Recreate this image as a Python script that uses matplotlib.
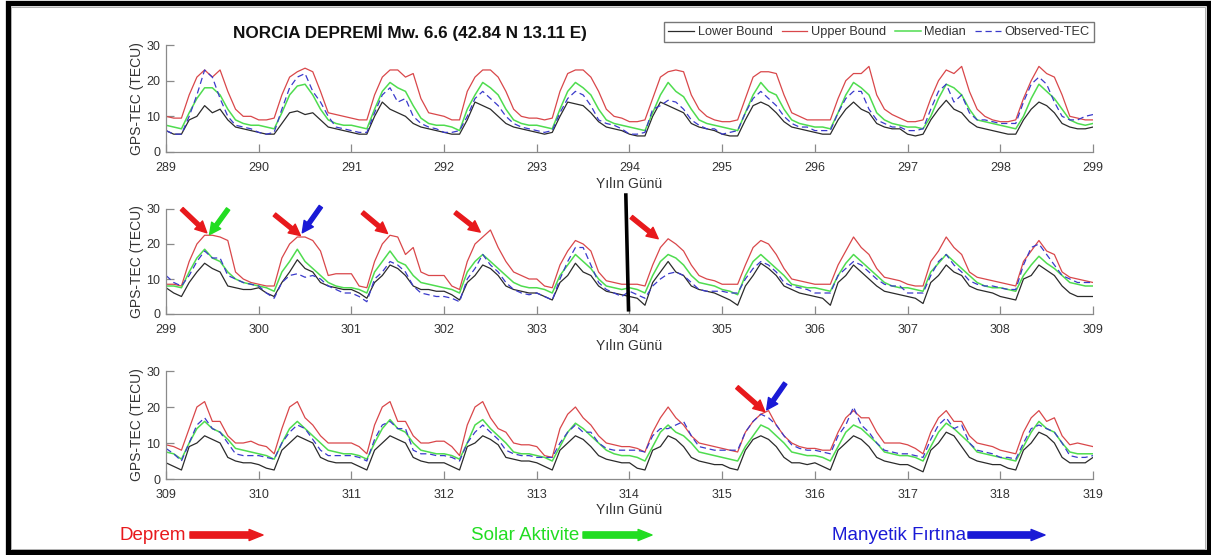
import numpy as np
import matplotlib
matplotlib.use("Agg")
import matplotlib.pyplot as plt
from matplotlib.patches import Rectangle, FancyArrowPatch

plt.rcParams['font.family'] = ['Liberation Sans', 'DejaVu Sans']

# ---------------- data (12 samples per day, 2-hour step) ----------------
day_starts = [289, 299, 309]
samples_per_day = 12

lower_1 = [6, 5, 5, 9, 10, 13, 11, 12, 9, 7, 6.5, 6,
           5.5, 5, 5, 8, 11, 11.5, 10.5, 11, 9, 7, 6.5, 6,
           5.5, 5, 5, 10, 14, 12, 11, 10, 8, 7, 6.5, 6,
           5.5, 5, 5, 9, 14, 13, 12, 10, 8, 7, 6.5, 6,
           5.5, 5, 5.5, 10, 14, 13.5, 13, 11, 8.5, 7, 6.5, 6,
           5, 4.5, 4.5, 10, 14, 13, 12, 11, 8, 7, 6.5, 6,
           5, 4.5, 4.5, 9, 13, 14, 13, 11, 8.5, 7, 6.5, 6,
           5.5, 5, 5, 9, 12, 14, 12, 11, 8, 7, 6.5, 6.5,
           5, 4.5, 5, 9, 12, 14.5, 12, 11, 8.5, 7, 6.5, 6,
           5.5, 5, 5, 9, 12, 14, 13, 11, 8, 7, 6.5, 6.5,
           7]
upper_1 = [10, 9.5, 9.5, 16, 21, 23, 21, 23, 17, 12, 10, 10,
           9, 9, 9.5, 16, 21, 22.5, 23.5, 22.5, 17, 11, 10.5, 10,
           9.5, 9, 9, 16, 21, 23, 23, 21, 22, 15, 11, 10.5,
           10, 9, 9, 17, 21, 23, 23, 21, 17, 12, 10, 9.5,
           9.5, 9, 9.5, 17, 22, 23, 23, 21, 17, 12, 10, 9.5,
           8.5, 8.5, 9, 15, 21, 22.5, 23, 22.5, 16, 12, 10, 9,
           8.5, 8.5, 9, 15, 21, 22.5, 22.5, 22, 16, 11, 10, 9,
           9, 9, 9, 15, 20, 22, 22, 24, 16, 12, 10.5, 9.5,
           8.5, 8.5, 9, 15, 20, 23, 22, 24, 17, 12, 10, 9,
           8.5, 8.5, 9, 15, 20, 24, 22, 21, 16, 10, 9.5, 9,
           9]
median_1 = [7.5, 7, 6.5, 11, 15, 18, 18, 16, 12, 9, 8, 7.5,
            7.5, 7, 6.5, 11, 16, 18.5, 19, 16, 12, 9, 8, 7.5,
            7.5, 7, 6.5, 12, 17, 19.5, 18, 17, 13, 9.5, 8, 7.5,
            7.5, 7, 6, 12, 16, 19.5, 18, 16, 12, 9, 8, 7.5,
            7.5, 7, 6.5, 12, 17, 19.5, 18, 16, 12, 9, 8, 7.5,
            7, 6.5, 6, 11, 16, 19.5, 17, 15.5, 12, 9, 8, 7.5,
            7, 6.5, 6, 11, 16, 19.5, 17, 16, 12, 9, 8, 7.5,
            7, 7, 6.5, 11, 16, 19.5, 18, 16, 11, 9, 8, 7.5,
            7, 7, 6.5, 10, 15, 19, 18, 16, 12, 9, 8.5, 8,
            7.5, 7, 6.5, 10, 15, 19, 17, 15, 12, 9, 8, 7.5,
            8]
observed_1 = [6, 5, 5, 10, 16, 23, 21, 15, 10, 7.5, 7, 6.5,
              5.5, 5, 5.5, 12, 18, 21, 22, 17, 14, 10, 7, 6.5,
              6, 5.5, 5.5, 11, 16, 18, 14, 15, 10, 8, 7, 6.5,
              5.5, 5.5, 6, 10, 15, 17, 15, 13, 10, 8, 7, 6.5,
              6, 5.5, 6, 11, 15, 17, 16, 13, 9, 8, 7.5, 6.5,
              5, 5, 5.5, 12, 13, 14.5, 14, 12, 9, 7.5, 6.5, 6.5,
              5, 5.5, 6, 11, 15, 17, 15, 13, 10, 8, 7, 7,
              6, 6, 6, 11, 15, 17, 17, 12, 9, 8, 7, 7,
              6, 6, 6.5, 12, 17, 19, 14, 16, 11, 9, 9, 8.5,
              8, 8, 8, 14, 19, 21, 19, 14, 10, 9, 9, 10,
              10.5]

lower_2 = [7.5, 6, 5, 9, 12, 14.5, 13, 12, 8, 7.5, 7, 7,
           7.5, 6, 5, 9, 12, 15.5, 13, 12, 9, 8, 7.5, 7,
           7, 6, 4.5, 9, 11, 14, 13, 11, 8, 7, 7, 6.5,
           6.5, 5.5, 4, 9, 11, 14, 13, 11, 8, 7, 6.5, 6,
           6, 5, 4, 9, 11, 14.5, 12, 11, 8, 6.5, 6, 5.5,
           5, 4.5, 2.5, 9, 12, 15, 12, 11, 8, 7, 6.5, 6,
           5, 4, 2.5, 8, 11, 14.5, 13, 11, 8, 7, 6, 5.5,
           5, 4.5, 2.5, 9, 11, 14, 12, 10, 8, 6.5, 6, 5.5,
           5, 4.5, 3, 9, 11, 14, 12, 11, 8, 7, 6.5, 6,
           5, 4.5, 4, 10, 11, 14, 12.5, 11, 8, 6, 5, 5,
           5]
upper_2 = [8.5, 8.5, 8, 15, 20, 22.5, 22.5, 22, 21, 12, 10, 9,
           8.5, 8, 8, 16, 20, 22, 22, 21, 18, 11, 11.5, 11.5,
           11.5, 8, 7.5, 15, 20, 22.5, 22, 17, 19, 12, 11, 11,
           11, 8, 7, 15, 20, 22, 24, 19, 15, 12, 11, 10,
           10, 8, 7.5, 14, 18, 21, 20, 18, 12, 9.5, 9, 8.5,
           8.5, 8.5, 8, 14, 19, 21.5, 20, 18, 14, 11, 10, 9.5,
           8.5, 8.5, 8.5, 14, 19, 21, 20, 17, 13, 10, 9.5, 9,
           8.5, 8.5, 8.5, 14, 18, 22, 19, 17, 13, 10.5, 10, 9.5,
           8.5, 8, 8, 15, 18, 22, 19, 17, 12, 10.5, 10, 9.5,
           9, 8.5, 8, 15, 18, 21, 18, 17, 12, 10.5, 10, 9.5,
           9]
median_2 = [8, 8, 7.5, 12, 16, 18.5, 16, 15, 12, 10, 9, 8.5,
            8, 7.5, 6.5, 12, 15, 18.5, 15, 13, 11, 9, 8, 7.5,
            7.5, 7, 6, 12, 15, 18, 15, 14, 11, 9, 8.5, 8,
            7.5, 7, 6, 12, 15, 17, 15, 13, 11, 9, 8, 7.5,
            7.5, 7, 6, 11, 14, 17, 15, 13, 10, 8, 7.5, 7,
            7.5, 7, 6, 11, 15, 17, 16, 14, 11, 9, 8.5, 8,
            7, 6.5, 5.5, 11, 15, 17, 15, 13, 11, 8.5, 8, 7.5,
            7.5, 7, 6.5, 11, 14.5, 17, 15, 13, 11, 9, 8, 7.5,
            7.5, 7, 6.5, 12, 14.5, 17, 15, 13, 11, 9, 8, 7.5,
            7.5, 7, 6.5, 11, 14, 16.5, 14.5, 13, 11, 9, 8.5, 8,
            8]
observed_2 = [11, 9, 8, 11, 15, 18, 16, 16, 11, 10, 9, 8.5,
              8, 6, 4.5, 9, 11, 11.5, 10.5, 11, 10, 8, 7, 6,
              6, 5, 3.5, 10, 12, 15, 14, 12, 8, 6, 5.5, 5,
              5, 4.5, 3.5, 10, 13, 17, 14, 12, 9, 7, 6, 5.5,
              6, 5, 4, 10, 15, 19, 19, 14, 9, 7, 6, 5,
              6.5, 5.5, 4.5, 8, 10, 11.5, 12, 11, 9, 7, 6.5, 6.5,
              6.5, 6, 6, 10, 13, 15, 14, 12, 9, 8, 7.5, 7,
              6, 6, 6, 11, 13, 15, 14, 12, 10, 8.5, 8, 8,
              6, 6, 6, 11, 15, 17, 14, 12, 9.5, 8.5, 8, 8,
              7.5, 7, 7, 14, 19, 20, 17, 14, 11, 10, 9, 9,
              9]

lower_3 = [4.5, 3.5, 2.5, 9, 10, 12, 11, 10, 6, 5, 4.5, 4.5,
           4, 3, 2.5, 8, 10, 12, 11, 10, 6, 5, 4.5, 4.5,
           4.5, 3.5, 2.5, 8, 10, 12, 11, 10, 6, 5, 4.5, 4.5,
           4.5, 3.5, 2.5, 9, 10, 12, 11, 9.5, 6, 5.5, 5, 5,
           4.5, 3.5, 2.5, 8, 10, 12, 11, 9, 6.5, 5.5, 5, 4.5,
           4.5, 3, 2.5, 8, 9, 12, 11, 9, 6, 5, 4.5, 4,
           4, 3, 2.5, 8, 11, 12, 11, 9, 6, 4.5, 4.5, 4,
           4.5, 3.5, 2.5, 8, 10, 12, 11, 9, 6, 5, 4.5, 4,
           4, 3, 2, 8, 10, 13, 12, 9, 6, 5, 4.5, 4,
           4, 3, 2.5, 8, 10, 13, 12, 10, 6, 4.5, 4.5, 4.5,
           6]
upper_3 = [9.5, 9, 8, 14, 20, 21.5, 16, 16, 12, 10, 10, 10.5,
           9.5, 9, 7, 14, 20, 21.5, 17, 15, 12, 10, 10, 10,
           10, 9, 7, 15, 20, 21.5, 16, 16, 12, 10, 10, 10.5,
           10.5, 9, 6.5, 15, 20, 21.5, 17, 14, 13, 10, 9.5, 9.5,
           9, 6.5, 6, 14, 18, 20, 17, 15, 12, 10, 9.5, 9,
           9, 8.5, 7.5, 13, 17, 20, 17, 15, 12, 10, 9.5, 9,
           8.5, 8, 7.5, 13, 16, 18, 19, 15, 12, 10, 9, 8.5,
           8.5, 8, 8, 13, 17, 19, 17, 17, 13, 10, 10, 10,
           9.5, 8.5, 7, 13, 17, 19, 16, 16, 12, 10, 9.5, 9,
           8, 7.5, 7, 13, 17, 19, 16, 17, 12, 9.5, 10, 9.5,
           9]
median_3 = [7.5, 7, 5.5, 10, 14, 16, 14, 13, 11, 8.5, 8, 7.5,
            7, 6.5, 5.5, 10, 14, 16, 14, 12, 10, 8, 7.5, 7,
            7, 6.5, 5.5, 10, 14, 16.5, 14, 13, 10, 8, 7.5, 7,
            7, 6.5, 5.5, 10, 15, 16.5, 14, 12, 10, 7.5, 7, 7,
            6.5, 6, 5, 9, 13, 15.5, 14, 12, 10, 8, 7, 6.5,
            6.5, 6, 5, 9, 13, 15, 13, 12, 10, 7.5, 7, 6.5,
            6, 5.5, 5, 9, 12, 15, 14, 12, 10, 7.5, 7, 6.5,
            6.5, 6, 5, 9, 13, 15, 14, 12, 10, 7.5, 7, 6.5,
            6.5, 6, 5, 9, 13, 15.5, 14, 12, 10, 7.5, 7, 6.5,
            6, 5.5, 5, 9, 13, 16, 14, 13, 10, 7.5, 7, 7,
            7]
observed_3 = [8.5, 7, 5, 10, 15, 17, 14, 13, 10, 7, 6.5, 6.5,
              6.5, 6, 5.5, 10, 13, 15, 14, 11, 8, 6.5, 6.5, 6.5,
              6.5, 6, 5, 11, 15, 16, 14, 14, 8, 7, 7, 6.5,
              6.5, 6, 5, 10, 13, 15, 13, 11, 8, 7, 6.5, 6.5,
              6, 6, 6, 10, 13, 15, 13, 13, 10, 8.5, 8, 8,
              8, 8, 7.5, 12, 14, 14, 15, 16, 12, 9, 8.5, 8,
              8, 8, 8, 13, 16, 18, 17, 15, 12, 9.5, 8.5, 8,
              8, 7.5, 7, 12, 15, 20, 15, 13, 10, 8, 7.5, 7,
              7, 6.5, 6, 11, 15, 17, 14, 15, 10, 8, 7.5, 7,
              6, 6, 5.5, 10, 14, 15, 14, 13, 10, 6.5, 6, 6,
              6.5]

panels = [
    (lower_1, upper_1, median_1, observed_1),
    (lower_2, upper_2, median_2, observed_2),
    (lower_3, upper_3, median_3, observed_3),
]

series_labels = ['Lower Bound', 'Upper Bound', 'Median', 'Observed-TEC']
title_text = 'NORCIA DEPREMİ Mw. 6.6 (42.84 N 13.11 E)'
x_label = 'Yılın Günü'
y_label = 'GPS-TEC (TECU)'

# anomaly arrows: (panel, tail_x, tail_y, head_x, head_y, colour)
arrow_marks = [
    (1, 299.17, 30.0, 299.44, 23.2, 'red'),
    (1, 299.67, 30.0, 299.47, 22.7, 'green'),
    (1, 300.17, 28.4, 300.45, 22.4, 'red'),
    (1, 300.67, 30.7, 300.47, 23.2, 'blue'),
    (1, 301.12, 29.0, 301.39, 23.0, 'red'),
    (1, 302.12, 29.0, 302.39, 23.4, 'red'),
    (1, 304.02, 27.7, 304.31, 21.5, 'red'),
    (2, 315.16, 25.5, 315.46, 18.7, 'red'),
    (2, 315.68, 26.6, 315.48, 19.2, 'blue'),
]
event_day = 304

# ---------------- style ----------------
W, H = 1211, 555
fig = plt.figure(figsize=(W / 100, H / 100), dpi=100)
fig.patch.set_facecolor('white')

line_styles = [
    dict(color='#2b2b2b', lw=0.9, ls='-'),
    dict(color='#d9474a', lw=0.9, ls='-'),
    dict(color='#4fdc4f', lw=1.1, ls='-'),
    dict(color='#3a3acb', lw=0.9, ls=(0, (5, 3))),
]
mark_colours = {'red': '#e8191c', 'green': '#22dd22', 'blue': '#1a1ad6'}
axis_grey = '#8a8a8a'
text_grey = '#333333'

left, width = 166 / W, 927 / W
rects = [(152, 45), (314, 209), (479, 371)]

axes = []
for k, (y0, y30) in enumerate(rects):
    ax = fig.add_axes([left, (H - y0) / H, width, (y0 - y30) / H])
    axes.append(ax)
    start = day_starts[k]
    vals = panels[k]
    t = start + np.arange(len(vals[0])) / samples_per_day
    handles = []
    for v, st, lab in zip(vals, line_styles, series_labels):
        h, = ax.plot(t, v, label=lab, **st)
        handles.append(h)
    ax.set_xlim(start, start + 10)
    ax.set_ylim(0, 30)
    ax.set_xticks(np.arange(start, start + 11))
    ax.set_yticks([0, 10, 20, 30])
    for s in ('top', 'right'):
        ax.spines[s].set_visible(False)
    for s in ('left', 'bottom'):
        ax.spines[s].set_color(axis_grey)
        ax.spines[s].set_linewidth(0.9)
    ax.tick_params(direction='in', length=6, width=0.9, color=axis_grey,
                   labelcolor=text_grey, labelsize=9)
    ax.tick_params(axis='x', pad=7)
    ax.tick_params(axis='y', pad=4)
    ax.set_xlabel(x_label, fontsize=10, color=text_grey, labelpad=2)
    ax.set_ylabel(y_label, fontsize=10, color=text_grey, labelpad=2)
    ax.patch.set_alpha(0)

axes[0].set_title(title_text, fontsize=12.3, fontweight='bold', color='#111111',
                  x=(410 - 166) / 927, pad=5)

fig.legend(handles, series_labels, loc='center', ncol=4,
           bbox_to_anchor=(879 / W, 1 - 32 / H), fontsize=9.2,
           frameon=True, fancybox=False, edgecolor='#555555',
           handlelength=2.0, handletextpad=0.3, columnspacing=0.7,
           borderpad=0.35, labelcolor=text_grey)

# event marker on the middle panel
axes[1].plot([event_day - 0.04, event_day - 0.01], [34.5, 0.7], color='black',
             lw=2.6, clip_on=False, solid_capstyle='butt', zorder=6)

for p, tx, ty, hx, hy, c in arrow_marks:
    axes[p].annotate('', xy=(hx, hy), xytext=(tx, ty),
                     arrowprops=dict(arrowstyle='simple,head_length=0.9,head_width=0.9,tail_width=0.32',
                                     mutation_scale=9, color=mark_colours[c],
                                     shrinkA=0, shrinkB=0),
                     annotation_clip=False, zorder=7)

# bottom key
key_y = 1 - 535 / H
key_items = [('Deprem', 'red', 119, 190, 263),
             ('Solar Aktivite', 'green', 471, 583, 652),
             ('Manyetik Fırtına', 'blue', 832, 968, 1045)]
for txt, c, x_text, x_a0, x_a1 in key_items:
    fig.text(x_text / W, key_y, txt, color=mark_colours[c], fontsize=13.5,
             ha='left', va='center')
    fig.add_artist(FancyArrowPatch((x_a0 / W, key_y), (x_a1 / W, key_y),
                                   transform=fig.transFigure,
                                   arrowstyle='simple,head_length=1.0,head_width=0.8,tail_width=0.45',
                                   mutation_scale=10, color=mark_colours[c],
                                   shrinkA=0, shrinkB=0))

# page frame
fig.add_artist(Rectangle((7.5 / W, 3 / H), (1209 - 7.5) / W, (552 - 3) / H,
                         transform=fig.transFigure, fill=False,
                         edgecolor='black', lw=3.8))
fig.add_artist(Rectangle((11 / W, 6.5 / H), (1205 - 11) / W, (548 - 6.5) / H,
                         transform=fig.transFigure, fill=False,
                         edgecolor='#b0b0b0', lw=0.7))

fig.savefig('out.png', dpi=100, facecolor='white')
